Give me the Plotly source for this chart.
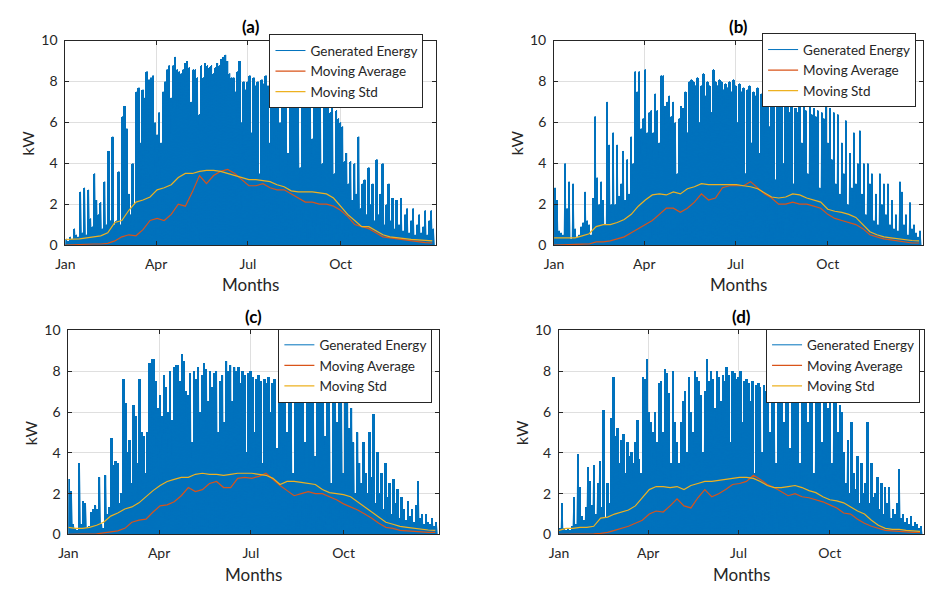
import plotly.graph_objects as go

# ---------------- DATA ----------------
MONTH_TICKS = [0, 90, 181, 273]            # day-of-year of Jan, Apr, Jul, Oct
MONTH_LABELS = ["Jan", "Apr", "Jul", "Oct"]
Y_TICKS = [0, 2, 4, 6, 8, 10]
BIN_DAYS = 2                                # each peak value = max over 2 days
WEEK_DAYS = 7                               # moving stats sampled weekly

peaks_a = [
    0.3, 0.2, 0.4, 0.3, 0.8, 0.5, 0.4, 2.6, 0.6, 2.8,
    0.5, 2.7, 1.3, 0.9, 3.5, 2.2, 1.5, 2.1, 0.8, 3.1,
    1.0, 4.6, 1.2, 5.3, 1.0, 1.2, 3.6, 1.0, 6.3, 6.8,
    5.7, 2.5, 1.5, 4.0, 2.0, 7.5, 7.7, 5.0, 7.6, 7.2,
    8.5, 8.1, 8.2, 8.3, 6.0, 5.4, 6.5, 5.0, 7.5, 8.0,
    8.6, 8.8, 7.2, 8.8, 9.2, 8.6, 8.5, 8.4, 8.6, 8.9,
    9.0, 8.7, 7.0, 8.6, 8.6, 8.2, 6.4, 8.8, 8.2, 8.9,
    8.8, 8.7, 8.8, 8.4, 8.7, 8.9, 8.8, 9.1, 9.2, 9.3,
    9.0, 8.4, 8.2, 8.2, 7.5, 8.5, 9.0, 6.0, 8.0, 7.6,
    8.0, 8.3, 5.5, 8.2, 7.8, 8.0, 3.5, 8.1, 7.9, 8.3,
    7.8, 5.0, 8.0, 8.2, 7.7, 7.9, 6.0, 8.1, 7.5, 7.8,
    4.5, 7.6, 7.9, 7.4, 7.7, 7.5, 3.8, 7.3, 7.6, 7.2,
    7.0, 7.4, 5.2, 7.1, 6.9, 7.2, 6.8, 4.0, 7.0, 6.8,
    6.9, 6.5, 6.7, 3.5, 6.6, 6.2, 6.0, 5.8, 4.1, 4.5,
    3.0, 4.1, 2.2, 4.0, 2.5, 5.3, 1.8, 3.0, 3.2, 1.5,
    3.8, 2.0, 3.0, 1.2, 4.2, 1.5, 2.5, 4.0, 1.0, 2.0,
    3.0, 1.2, 2.3, 0.8, 2.2, 1.0, 2.3, 0.7, 1.5, 1.8,
    0.6, 1.2, 1.8, 0.5, 1.0, 1.5, 0.6, 0.9, 1.7, 0.5,
    1.2, 1.7, 0.8,
]
ma_a = [0.0, 0.02, 0.03, 0.05, 0.05, 0.05, 0.08, 0.2, 0.4, 0.5,
        0.45, 0.75, 1.2, 1.3, 1.2, 1.5, 2.0, 1.9, 2.6, 3.4,
        3.0, 3.4, 3.6, 3.7, 3.5, 3.2, 2.9, 2.9, 3.0, 2.8,
        2.7, 2.7, 2.5, 2.3, 2.1, 2.1, 2.0, 2.0, 1.9, 1.7,
        1.4, 1.0, 0.9, 0.8, 0.6, 0.4, 0.35, 0.3, 0.25, 0.2,
        0.15, 0.12, 0.1]
sd_a = [0.27, 0.28, 0.3, 0.35, 0.4, 0.45, 0.6, 1.1, 1.2, 1.7,
        2.1, 2.2, 2.35, 2.7, 2.8, 2.95, 3.3, 3.5, 3.5, 3.6,
        3.65, 3.65, 3.6, 3.5, 3.4, 3.3, 3.2, 3.2, 3.15, 3.1,
        2.95, 2.85, 2.65, 2.6, 2.6, 2.6, 2.55, 2.5, 2.3, 1.9,
        1.5, 1.2, 0.9, 0.9, 0.7, 0.5, 0.4, 0.35, 0.3, 0.28,
        0.25, 0.22, 0.2]

peaks_b = [
    2.8, 2.2, 0.7, 0.6, 0.5, 4.0, 1.8, 3.1, 0.3, 3.0,
    0.8, 0.4, 0.5, 0.9, 1.1, 2.6, 1.2, 1.0, 0.5, 2.3,
    6.3, 3.3, 2.0, 3.1, 2.2, 1.0, 7.0, 4.9, 2.0, 5.5,
    2.0, 4.9, 2.4, 3.0, 4.6, 2.2, 4.2, 2.5, 5.3, 4.0,
    8.5, 7.5, 8.5, 5.7, 6.2, 8.6, 5.5, 6.5, 6.6, 5.5,
    7.4, 6.6, 5.0, 8.3, 8.3, 6.8, 7.0, 7.3, 6.3, 7.0,
    6.0, 3.5, 6.2, 6.8, 6.7, 7.5, 5.5, 8.0, 8.1, 8.0,
    7.8, 8.2, 6.0, 7.8, 8.4, 7.3, 8.0, 7.8, 6.5, 8.6,
    8.0, 7.8, 8.1, 8.0, 7.6, 7.9, 7.7, 8.0, 7.5, 8.1,
    7.8, 6.0, 7.9, 7.5, 7.7, 3.5, 7.6, 7.8, 5.0, 7.5,
    7.3, 7.7, 4.5, 7.4, 7.2, 7.0, 7.6, 5.8, 7.1, 7.3,
    3.2, 6.9, 7.2, 6.8, 4.0, 7.0, 6.8, 6.5, 6.9, 3.0,
    6.7, 6.5, 7.0, 5.0, 6.8, 6.6, 3.5, 6.8, 6.4, 6.7,
    6.3, 6.6, 2.8, 6.5, 6.2, 6.8, 5.0, 6.7, 4.2, 6.5,
    3.0, 6.4, 2.5, 5.0, 3.5, 6.1, 2.0, 4.5, 2.8, 5.5,
    3.0, 4.0, 5.6, 2.5, 4.0, 1.5, 4.0, 3.0, 3.5, 1.2,
    2.5, 1.0, 3.5, 2.0, 3.0, 1.5, 3.0, 1.0, 2.2, 0.8,
    1.5, 0.7, 3.1, 2.6, 1.0, 1.5, 0.5, 2.1, 0.8, 1.0,
    0.6, 0.4, 0.7,
]
ma_b = [0.0, 0.0, 0.02, 0.03, 0.04, 0.05, 0.15, 0.15, 0.2, 0.3,
        0.4, 0.6, 0.8, 1.0, 1.2, 1.5, 1.8, 1.8, 1.6, 1.8,
        2.1, 2.5, 2.2, 2.3, 2.8, 2.9, 2.9, 2.9, 3.1, 2.8,
        2.5, 2.3, 2.0, 2.0, 2.1, 2.0, 2.0, 1.9, 1.8, 1.5,
        1.3, 1.2, 1.1, 1.0, 0.8, 0.5, 0.4, 0.3, 0.25, 0.2,
        0.15, 0.1, 0.1]
sd_b = [0.35, 0.35, 0.35, 0.35, 0.45, 0.55, 0.9, 1.0, 1.0, 1.1,
        1.25, 1.5, 1.9, 2.2, 2.45, 2.5, 2.45, 2.6, 2.5, 2.75,
        2.85, 3.0, 2.95, 2.95, 2.95, 2.95, 2.95, 2.9, 2.85, 2.75,
        2.55, 2.35, 2.3, 2.35, 2.5, 2.45, 2.3, 2.2, 2.1, 1.75,
        1.65, 1.6, 1.5, 1.35, 1.0, 0.65, 0.5, 0.4, 0.35, 0.3,
        0.28, 0.22, 0.2]

peaks_c = [
    2.7, 2.1, 0.5, 0.3, 0.2, 3.5, 0.5, 1.6, 1.5, 0.3,
    0.4, 1.1, 1.2, 1.4, 1.2, 2.8, 0.5, 0.3, 2.9, 1.0,
    1.3, 4.7, 3.4, 3.6, 3.5, 1.5, 2.0, 7.6, 6.4, 4.0,
    4.6, 2.5, 6.3, 5.8, 3.5, 7.6, 5.0, 4.8, 3.0, 5.0,
    8.4, 8.6, 8.6, 7.5, 6.2, 6.8, 5.8, 7.8, 7.2, 6.0,
    8.0, 5.6, 8.2, 8.3, 8.3, 7.5, 8.8, 8.5, 7.0, 6.8,
    7.9, 4.5, 8.0, 7.6, 8.2, 6.0, 7.8, 8.4, 8.1, 6.5,
    8.0, 7.2, 7.9, 8.0, 5.0, 7.5, 7.8, 5.5, 8.5, 8.0,
    8.3, 6.5, 8.2, 8.0, 8.2, 7.4, 8.0, 7.8, 4.0, 7.9,
    8.0, 7.7, 5.0, 7.6, 7.8, 7.5, 3.5, 7.6, 7.4, 7.7,
    6.0, 7.4, 7.6, 4.2, 7.3, 7.5, 7.2, 7.4, 5.0, 7.1,
    7.3, 3.0, 7.0, 7.2, 6.9, 7.1, 6.8, 4.5, 7.0, 6.9,
    6.8, 7.0, 3.8, 6.7, 6.9, 6.6, 6.8, 4.8, 6.5, 6.7,
    2.5, 6.6, 6.4, 5.5, 6.8, 6.5, 3.0, 6.4, 6.6, 5.2,
    6.2, 4.5, 2.0, 5.0, 3.5, 2.5, 4.5, 3.0, 2.0, 5.0,
    2.8, 5.9, 1.5, 4.0, 2.0, 3.0, 1.2, 3.5, 1.8, 2.5,
    1.0, 2.7, 1.5, 2.2, 0.8, 1.8, 1.2, 0.7, 1.6, 0.9,
    1.2, 0.6, 1.4, 2.6, 0.8, 1.0, 0.5, 1.0, 0.6, 0.5,
    0.8, 0.4, 0.6,
]
ma_c = [0.0, 0.0, 0.01, 0.02, 0.03, 0.08, 0.12, 0.18, 0.3, 0.6,
        0.7, 0.75, 1.1, 1.4, 1.45, 1.6, 1.9, 2.3, 2.1, 2.2,
        2.5, 2.6, 2.3, 2.3, 2.75, 2.8, 2.75, 2.85, 3.0, 2.7,
        2.4, 2.15, 1.9, 2.0, 2.1, 2.0, 2.0, 1.85, 1.7, 1.5,
        1.35, 1.2, 1.0, 0.8, 0.55, 0.35, 0.3, 0.2, 0.18, 0.15,
        0.12, 0.1, 0.1]
sd_c = [0.35, 0.3, 0.3, 0.35, 0.45, 0.6, 0.9, 1.05, 1.25, 1.35,
        1.55, 1.85, 2.15, 2.4, 2.6, 2.7, 2.8, 2.8, 2.95, 3.0,
        2.95, 2.95, 2.9, 2.95, 3.0, 3.0, 3.0, 2.95, 2.9, 2.75,
        2.45, 2.6, 2.6, 2.55, 2.5, 2.45, 2.2, 2.05, 2.0, 1.95,
        1.85, 1.6, 1.35, 1.1, 0.85, 0.6, 0.5, 0.4, 0.35, 0.3,
        0.27, 0.22, 0.2]

peaks_d = [
    0.3, 1.5, 0.3, 0.2, 0.3, 0.2, 0.4, 1.8, 0.5, 3.9,
    2.3, 0.9, 0.7, 1.3, 3.3, 2.6, 1.4, 3.4, 1.0, 2.5,
    3.6, 1.3, 6.1, 0.8, 2.5, 1.5, 5.7, 7.7, 4.8, 5.2,
    3.5, 4.6, 4.9, 3.0, 4.5, 3.8, 4.0, 3.5, 4.5, 5.6,
    3.7, 3.0, 7.7, 7.6, 8.6, 6.0, 5.5, 5.0, 6.0, 4.5,
    7.4, 7.5, 5.0, 8.1, 7.9, 6.9, 3.5, 8.0, 5.5, 4.5,
    3.5, 5.5, 6.5, 7.0, 4.0, 7.7, 6.0, 5.0, 8.0, 7.7,
    7.5, 6.8, 4.0, 7.0, 8.6, 7.5, 8.0, 7.6, 6.2, 8.0,
    7.7, 6.5, 7.8, 7.5, 8.2, 7.8, 4.5, 8.0, 7.9, 7.6,
    7.7, 8.0, 5.5, 7.5, 7.6, 7.4, 6.5, 7.5, 3.0, 7.3,
    7.4, 7.2, 4.0, 7.3, 7.0, 7.2, 5.0, 7.1, 7.0, 3.5,
    7.0, 6.9, 7.1, 5.5, 6.8, 7.0, 4.2, 6.9, 6.8, 7.0,
    6.7, 3.5, 6.9, 6.6, 6.8, 5.5, 6.7, 6.5, 3.0, 6.6,
    6.8, 6.4, 4.5, 6.5, 6.7, 6.2, 6.6, 3.5, 6.4, 6.5,
    5.0, 6.3, 6.0, 4.0, 2.5, 4.6, 2.0, 5.5, 3.0, 2.2,
    3.8, 1.5, 3.5, 2.0, 2.5, 5.5, 1.5, 3.5, 1.8, 2.0,
    2.8, 1.2, 2.5, 1.0, 2.3, 1.5, 2.3, 0.8, 1.2, 1.0,
    1.5, 3.2, 0.8, 1.0, 0.6, 0.8, 0.5, 0.9, 0.4, 0.6,
    0.5, 0.3, 0.4,
]
ma_d = [0.0, 0.0, 0.0, 0.01, 0.02, 0.03, 0.05, 0.1, 0.2, 0.3,
        0.4, 0.55, 0.7, 1.0, 1.15, 1.1, 1.4, 1.75, 1.4, 1.3,
        1.8, 2.2, 1.85, 2.0, 2.2, 2.45, 2.5, 2.6, 2.9, 2.7,
        2.45, 2.3, 2.1, 1.9, 2.0, 1.85, 1.8, 1.7, 1.6, 1.45,
        1.3, 1.05, 1.0, 0.75, 0.55, 0.4, 0.3, 0.2, 0.18, 0.15,
        0.12, 0.1, 0.1]
sd_d = [0.2, 0.3, 0.3, 0.35, 0.35, 0.4, 0.8, 0.85, 1.0, 1.1,
        1.2, 1.4, 1.8, 2.2, 2.35, 2.35, 2.3, 2.35, 2.2, 2.4,
        2.5, 2.6, 2.6, 2.65, 2.7, 2.75, 2.8, 2.8, 2.75, 2.6,
        2.4, 2.3, 2.3, 2.35, 2.4, 2.3, 2.15, 2.05, 1.85, 1.7,
        1.65, 1.55, 1.35, 1.15, 1.0, 0.7, 0.45, 0.3, 0.25, 0.25,
        0.2, 0.17, 0.15]

SERIES_NAMES = ["Generated Energy", "Moving Average", "Moving Std"]
PANEL_TITLES = ["(a)", "(b)", "(c)", "(d)"]

# ---------------- STYLE / LAYOUT ----------------
W, H = 925, 592
BLUE, ORANGE, YELLOW = "#0072BD", "#D95319", "#EDB120"
AXC = "#262626"
GRID = "#DFDFDF"
FONT = "Lato"

# plot areas in pixels: (left, right, top, bottom), legend box (right, top)
PANELS = [
    dict(px=(56, 431, 32.5, 243), leg=(418, 26), data=(peaks_a, ma_a, sd_a)),
    dict(px=(550, 923, 32.5, 243), leg=(916, 25), data=(peaks_b, ma_b, sd_b)),
    dict(px=(59, 434, 331, 541), leg=(427, 329), data=(peaks_c, ma_c, sd_c)),
    dict(px=(555, 924, 331, 541), leg=(920, 329), data=(peaks_d, ma_d, sd_d)),
]


def spikes(peaks):
    xs, ys = [], []
    for i, p in enumerate(peaks):
        xs += [BIN_DAYS * i, BIN_DAYS * i + BIN_DAYS / 2]
        ys += [0, p]
    xs.append(BIN_DAYS * len(peaks))
    ys.append(0)
    return xs, ys


fig = go.Figure()
annotations = []
layout = {}

for k, pan in enumerate(PANELS, start=1):
    l, r, t, b = pan["px"]
    xd = [l / W, r / W]
    yd = [1 - b / H, 1 - t / H]
    xa = "x" if k == 1 else f"x{k}"
    ya = "y" if k == 1 else f"y{k}"
    lg = "legend" if k == 1 else f"legend{k}"
    peaks, ma, sd = pan["data"]

    # solid body of the daily generation (one column per bin)
    fig.add_trace(go.Bar(x=[BIN_DAYS * i + BIN_DAYS / 2 for i in range(len(peaks))],
                         y=peaks, width=BIN_DAYS * 1.15,
                         marker=dict(color=BLUE, line=dict(width=0)),
                         showlegend=False, hoverinfo="skip",
                         xaxis=xa, yaxis=ya))
    sx, sy = spikes(peaks)
    fig.add_trace(go.Scatter(x=sx, y=sy, mode="lines", name=SERIES_NAMES[0],
                             line=dict(color=BLUE, width=1),
                             xaxis=xa, yaxis=ya, legend=lg, hoverinfo="skip"))
    fig.add_trace(go.Scatter(x=[WEEK_DAYS * i for i in range(len(ma))], y=ma,
                             mode="lines", name=SERIES_NAMES[1],
                             line=dict(color=ORANGE, width=1.2),
                             xaxis=xa, yaxis=ya, legend=lg))
    fig.add_trace(go.Scatter(x=[WEEK_DAYS * i for i in range(len(sd))], y=sd,
                             mode="lines", name=SERIES_NAMES[2],
                             line=dict(color=YELLOW, width=1.2),
                             xaxis=xa, yaxis=ya, legend=lg))

    axis_common = dict(showgrid=True, gridcolor=GRID, gridwidth=1,
                       showline=True, linecolor=AXC, linewidth=1, mirror="ticks",
                       ticks="inside", ticklen=4, tickcolor=AXC, zeroline=False,
                       tickfont=dict(family=FONT, size=14, color=AXC))
    layout["xaxis" if k == 1 else f"xaxis{k}"] = dict(
        domain=xd, range=[0, 368], tickmode="array", tickvals=MONTH_TICKS,
        ticktext=MONTH_LABELS, anchor=ya, ticklabelstandoff=6, **axis_common)
    layout["yaxis" if k == 1 else f"yaxis{k}"] = dict(
        domain=yd, range=[0, 10], tickmode="array", tickvals=Y_TICKS,
        anchor=xa, ticklabelstandoff=4, **axis_common)

    lx, ly = pan["leg"]
    layout[lg] = dict(x=lx / W, y=1 - ly / H, xanchor="right", yanchor="top",
                      bgcolor="white", bordercolor=AXC, borderwidth=1,
                      font=dict(family=FONT, size=13.5, color=AXC),
                      tracegroupgap=0)

    cx = (l + r) / 2 / W
    annotations.append(dict(text=f"<b>{PANEL_TITLES[k-1]}</b>", x=cx, y=1 - (t - 14) / H,
                            xref="paper", yref="paper", showarrow=False,
                            xanchor="center", yanchor="middle",
                            font=dict(family=FONT, size=17, color="black")))
    annotations.append(dict(text="Months", x=cx, y=1 - (b + 41) / H,
                            xref="paper", yref="paper", showarrow=False,
                            xanchor="center", yanchor="middle",
                            font=dict(family=FONT, size=17, color=AXC)))
    annotations.append(dict(text="kW", x=(l - 38) / W, y=(yd[0] + yd[1]) / 2,
                            xref="paper", yref="paper", showarrow=False,
                            xanchor="center", yanchor="middle", textangle=-90,
                            font=dict(family=FONT, size=16, color=AXC)))

fig.update_layout(width=W, height=H, margin=dict(l=0, r=0, t=0, b=0),
                  paper_bgcolor="white", plot_bgcolor="white",
                  barmode="overlay", bargap=0,
                  font=dict(family=FONT, color=AXC),
                  annotations=annotations, **layout)

fig.write_html("out.html")
